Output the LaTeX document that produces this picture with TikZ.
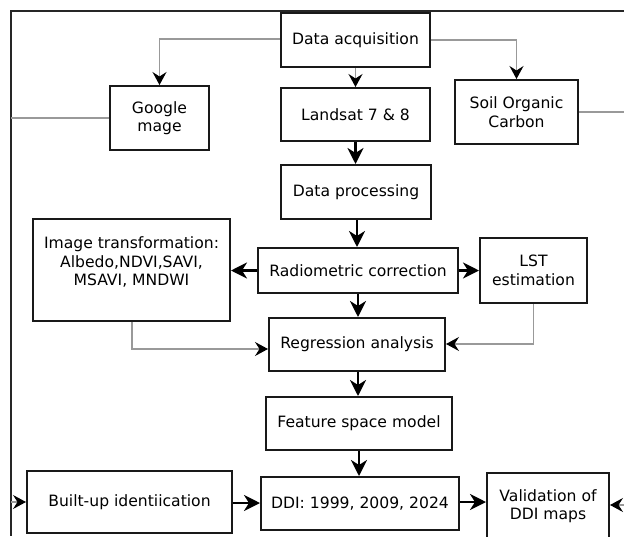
\documentclass[tikz,border=0pt]{standalone}
\usepackage{fontspec}
\setmainfont{DejaVu Sans}
\usetikzlibrary{arrows.meta}

\tikzset{
  box/.style={draw=black!90, line width=2pt, fill=white, inner sep=0pt,
    align=center, font=\fontsize{15.6}{18.4}\selectfont},
  thick arrow/.style={draw=black, line width=2.6pt,
    -{Stealth[length=16pt,width=16pt,inset=5pt]}},
  thin arrow/.style={draw=black!40, line width=1.2pt,
    -{Stealth[length=13pt,width=14pt,inset=4.5pt,color=black]}},
  thin line/.style={draw=black!40, line width=1.2pt},
  frame line/.style={draw=black!85, line width=1.5pt},
}

\begin{document}
\begin{tikzpicture}[x=1pt,y=-1pt]
\useasboundingbox (0,0) rectangle (624,536);

% outer frame lines
\coordinate (ftl) at (11,11);
\coordinate (ftr) at (624,11);
\coordinate (fbl) at (11,536);
\draw[frame line] (ftr) -- (ftl) -- (fbl);

% boxes
\node[box, minimum width=149pt, minimum height=54pt] (acq) at (355.5,40) {Data acquisition};
\node[box, minimum width=149pt, minimum height=53pt] (landsat) at (355.5,114.5) {Landsat 7 \& 8};
\node[box, minimum width=99pt, minimum height=64pt] (google) at (159.5,118) {Google\\mage};
\node[box, minimum width=123pt, minimum height=64pt] (soil) at (516.5,112) {Soil Organic\\Carbon};
\node[box, minimum width=150pt, minimum height=54pt] (proc) at (356,192) {Data processing};
\node[box, minimum width=200pt, minimum height=45pt] (radio) at (358,270.5) {Radiometric correction};
\node[box, minimum width=107pt, minimum height=65pt] (lst) at (533.5,270.5) {LST\\estimation};
\node[box, minimum width=197pt, minimum height=102pt] (imgt) at (131.5,270) {};
\node[box, draw=none, fill=none] (imgtxt) at (131.5,262)
  {Image transformation:\\Albedo,NDVI,SAVI,\\MSAVI, MNDWI};
\node[box, minimum width=176pt, minimum height=53pt] (regr) at (357,344.5) {Regression analysis};
\node[box, minimum width=186pt, minimum height=53pt] (feat) at (359,423.5) {Feature space model};
\node[box, minimum width=198pt, minimum height=53pt] (ddi) at (360,503.5) {DDI: 1999, 2009, 2024};
\node[box, minimum width=205pt, minimum height=62pt] (built) at (129.5,502) {Built-up identiication};
\node[box, minimum width=122pt, minimum height=66pt] (valid) at (548,506) {Validation of\\DDI maps};

% free ends at the frame
\coordinate (gleft) at (11,118);
\coordinate (sright) at (624,112);
\coordinate (bleft) at (11,502);
\coordinate (vright) at (624,505);

% thin connectors
\draw[thin arrow] (acq.south) -- (landsat.north);
\draw[thin arrow] (acq.west |- 0,39) -| (google.north);
\draw[thin arrow] (acq.east |- 0,40) -| (soil.north);
\draw[thin line] (google.west) -- (gleft);
\draw[thin line] (soil.east) -- (sright);
\draw[thin arrow] (imgt.south -| 132,0) |- (regr.west |- 0,349);
\draw[thin arrow] (lst.south) |- (regr.east |- 0,344);
\draw[thin arrow] (bleft) -- (built.west);
\draw[thin arrow] (vright) -- (valid.east |- vright);

% main flow
\draw[thick arrow] (landsat.south) -- (landsat.south |- proc.north);
\draw[thick arrow] (proc.south -| 357,0) -- (radio.north -| 357,0);
\draw[thick arrow] (radio.west) -- (imgt.east |- radio.west);
\draw[thick arrow] (radio.east) -- (lst.west |- radio.east);
\draw[thick arrow] (radio.south) -- (radio.south |- regr.north);
\draw[thick arrow] (regr.south -| 358,0) -- (feat.north -| 358,0);
\draw[thick arrow] (feat.south) -- (feat.south |- ddi.north);
\draw[thick arrow] (built.east |- 0,503) -- (ddi.west |- 0,503);
\draw[thick arrow] (ddi.east |- 0,502) -- (valid.west |- 0,502);
\end{tikzpicture}
\end{document}
